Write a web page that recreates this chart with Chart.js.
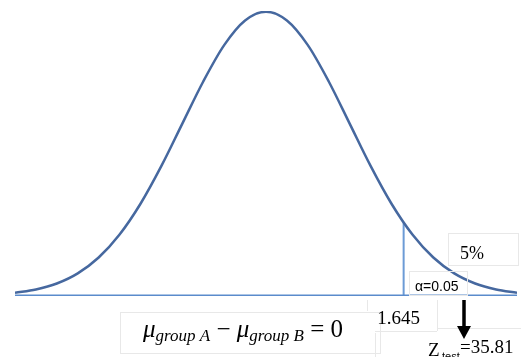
<!DOCTYPE html>
<html>
<head>
<meta charset="utf-8">
<script src="https://cdn.jsdelivr.net/npm/chart.js@4"></script>
<style>
  html, body { margin: 0; padding: 0; background: #fff; }
  #wrap { width: 521px; height: 357px; position: relative; }
</style>
</head>
<body>
<div id="wrap"><canvas id="normChart"></canvas></div>
<script>
// standard normal curve, z from -3 to 3
const zValues = [-3, -2.75, -2.5, -2.25, -2, -1.75, -1.5, -1.25, -1, -0.75, -0.5, -0.25, 0,
                 0.25, 0.5, 0.75, 1, 1.25, 1.5, 1.75, 2, 2.25, 2.5, 2.75, 3];
const density = [0.0044, 0.0091, 0.0175, 0.0317, 0.0540, 0.0863, 0.1295, 0.1826, 0.2420, 0.3011, 0.3521, 0.3867, 0.3989,
                 0.3867, 0.3521, 0.3011, 0.2420, 0.1826, 0.1295, 0.0863, 0.0540, 0.0317, 0.0175, 0.0091, 0.0044];

// critical value and its height on the curve
const critZ = 1.645;
const critDensity = 0.1031;

const alphaLabel = "α=0.05";
const tailLabel = "5%";
const zTest = "35.81";

const curvePoints = zValues.map((z, i) => ({ x: z, y: density[i] }));

const annotations = {
  id: "annotations",
  afterDraw(chart) {
    const ctx = chart.ctx;
    const xs = chart.scales.x;
    const cx = xs.getPixelForValue(critZ);
    ctx.save();

    // faint text-box outlines
    ctx.strokeStyle = "#e8e8e8";
    ctx.lineWidth = 1;
    ctx.strokeRect(448.5, 233.5, 70, 32);
    ctx.strokeRect(409.5, 271.5, 58, 24);
    ctx.strokeRect(120.5, 312.5, 260, 41);
    ctx.beginPath();
    ctx.moveTo(367.5, 300); ctx.lineTo(367.5, 311);
    ctx.moveTo(375, 331.5); ctx.lineTo(437, 331.5);
    ctx.moveTo(437.5, 300); ctx.lineTo(437.5, 331);
    ctx.moveTo(437, 328.5); ctx.lineTo(521, 328.5);
    ctx.moveTo(375.5, 333); ctx.lineTo(375.5, 357);
    ctx.stroke();

    ctx.fillStyle = "#000";
    ctx.textBaseline = "alphabetic";

    // tail area
    ctx.font = '18px "Liberation Serif"';
    ctx.fillText(tailLabel, 460, 259);

    // alpha
    ctx.font = '14px "Liberation Sans"';
    ctx.fillText(alphaLabel, 415, 291);

    // critical value under the vertical line
    ctx.font = '19px "Liberation Serif"';
    ctx.textAlign = "center";
    ctx.fillText(String(critZ), cx - 5, 324);
    ctx.textAlign = "left";

    // Z_test
    ctx.font = '19px "Liberation Serif"';
    ctx.fillText("Z", 428, 356);
    ctx.font = '11px "Liberation Sans"';
    ctx.fillText("test", 442, 360);
    ctx.font = '19px "Liberation Serif"';
    ctx.fillText("=" + zTest, 460, 353);

    // arrow down to Z_test
    ctx.strokeStyle = "#000";
    ctx.lineWidth = 3.5;
    ctx.beginPath();
    ctx.moveTo(464, 300); ctx.lineTo(464, 329);
    ctx.stroke();
    ctx.beginPath();
    ctx.moveTo(457, 326); ctx.lineTo(471, 326); ctx.lineTo(464, 339);
    ctx.closePath();
    ctx.fill();

    // null hypothesis
    let x = 143;
    const base = 337;
    const parts = [
      ["μ", 'italic 25px "Liberation Serif"', 0],
      ["group A", 'italic 17px "Liberation Serif"', 4],
      [" − ", '25px "Liberation Serif"', 0],
      ["μ", 'italic 25px "Liberation Serif"', 0],
      ["group B", 'italic 17px "Liberation Serif"', 4],
      [" = 0", '25px "Liberation Serif"', 0]
    ];
    parts.forEach(([t, f, dy]) => {
      ctx.font = f;
      ctx.fillText(t, x, base + dy);
      x += ctx.measureText(t).width;
    });

    ctx.restore();
  }
};

new Chart(document.getElementById("normChart"), {
  type: "line",
  data: {
    datasets: [
      {
        data: curvePoints,
        borderColor: "#46689f",
        borderWidth: 2.5,
        pointRadius: 0,
        fill: false,
        cubicInterpolationMode: "monotone",
        order: 1
      },
      {
        // critical-value marker
        data: [{ x: critZ, y: 0 }, { x: critZ, y: critDensity }],
        borderColor: "#6c9bd6",
        borderWidth: 2,
        pointRadius: 0,
        order: 2
      },
      {
        // axis line
        data: [{ x: zValues[0], y: 0 }, { x: zValues[zValues.length - 1], y: 0 }],
        borderColor: "#5a8bcc",
        borderWidth: 3,
        pointRadius: 0,
        order: 0
      }
    ]
  },
  options: {
    responsive: true,
    maintainAspectRatio: false,
    animation: false,
    layout: { padding: { left: 15, right: 4, top: 11, bottom: 61 } },
    plugins: { legend: { display: false }, tooltip: { enabled: false } },
    scales: {
      x: { type: "linear", min: -3, max: 3, display: false },
      y: { min: 0, max: 0.4, display: false }
    }
  },
  plugins: [annotations]
});
</script>
</body>
</html>
